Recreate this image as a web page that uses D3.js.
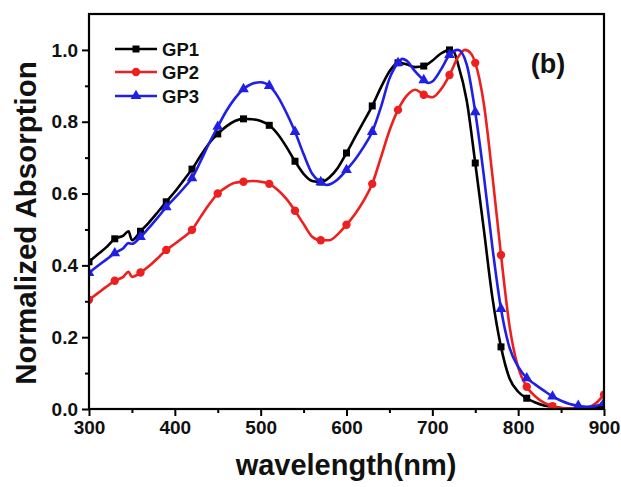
<!DOCTYPE html>
<html>
<head>
<meta charset="utf-8">
<script src="https://cdn.jsdelivr.net/npm/d3@7"></script>
<style>
  html, body { margin: 0; padding: 0; background: #fff; }
  svg { display: block; }
  text { font-family: "Liberation Sans", Arial, sans-serif; font-weight: bold; }
</style>
</head>
<body>
<script>
// ---- data ----
const seriesNames = ["GP1", "GP2", "GP3"];
const seriesColors = ["#000000", "#ee1f1f", "#1f1fe6"];
const markerWavelengths = [300,330,360,390,420,450,480,510,540,570,600,630,660,690,720,750,780,810,840,870,900];

const gp1Wavelength = [300,310,320,330,340,346,350,360,370,380,390,400,410,420,430,440,450,460,470,480,490,500,510,520,530,540,550,560,570,580,590,600,610,620,630,640,650,660,670,680,690,700,710,720,725,730,740,750,760,770,780,790,800,810,820,830,840,850,860,870,880,890,900];
const gp1Value = [0.41,0.43,0.45,0.474,0.483,0.495,0.47,0.495,0.52,0.548,0.577,0.605,0.636,0.668,0.705,0.74,0.766,0.787,0.802,0.808,0.807,0.802,0.79,0.765,0.73,0.69,0.655,0.635,0.632,0.645,0.672,0.713,0.757,0.8,0.844,0.895,0.94,0.964,0.96,0.952,0.955,0.97,0.99,1.0,0.995,0.96,0.86,0.685,0.5,0.31,0.173,0.085,0.048,0.03,0.018,0.01,0.006,0.003,0.001,0.0,0.0,0.003,0.01];

const gp2Wavelength = [300,310,320,330,340,346,350,360,370,380,390,400,410,420,430,440,450,460,470,480,490,500,510,520,530,540,550,560,570,580,590,600,610,620,630,640,650,660,670,680,690,700,710,720,730,738,745,750,760,770,780,790,800,810,820,830,840,850,860,870,880,890,900];
const gp2Value = [0.304,0.322,0.34,0.357,0.368,0.382,0.368,0.38,0.398,0.42,0.443,0.46,0.478,0.499,0.535,0.57,0.6,0.618,0.63,0.633,0.635,0.633,0.627,0.61,0.585,0.552,0.515,0.48,0.47,0.47,0.487,0.513,0.543,0.58,0.627,0.7,0.775,0.833,0.872,0.889,0.875,0.868,0.89,0.93,0.98,1.0,0.99,0.964,0.85,0.65,0.429,0.23,0.115,0.062,0.035,0.018,0.008,0.003,0.001,0.0,0.003,0.015,0.04];

const gp3Wavelength = [300,310,320,330,340,346,350,360,370,380,390,400,410,420,430,440,450,460,470,480,490,500,510,520,530,540,550,560,570,577,590,600,610,620,630,640,650,660,665,670,680,690,695,700,710,720,730,740,750,760,770,780,790,800,810,820,830,840,850,860,870,880,890,900];
const gp3Value = [0.379,0.398,0.416,0.434,0.448,0.462,0.46,0.479,0.505,0.533,0.562,0.588,0.614,0.643,0.69,0.74,0.786,0.83,0.865,0.891,0.906,0.91,0.9,0.87,0.825,0.772,0.71,0.655,0.632,0.624,0.64,0.666,0.695,0.73,0.772,0.84,0.92,0.964,0.975,0.97,0.94,0.916,0.908,0.912,0.945,0.986,1.0,0.96,0.827,0.65,0.45,0.279,0.17,0.118,0.086,0.068,0.051,0.035,0.023,0.014,0.009,0.006,0.008,0.017];

const xTicks = [300,400,500,600,700,800,900];
const xMinorTicks = [350,450,550,650,750,850];
const yTicks = [0.0,0.2,0.4,0.6,0.8,1.0];
const yMinorTicks = [0.1,0.3,0.5,0.7,0.9];

// ---- layout ----
const W = 621, H = 487;
const m = { left: 89, top: 14, right: 604, bottom: 409 };

const svg = d3.select("body").append("svg").attr("width", W).attr("height", H);

const x = d3.scaleLinear().domain([300, 900]).range([m.left, m.right]);
const y = d3.scaleLinear().domain([0, 1.1]).range([m.bottom, m.top]);

svg.append("defs").append("clipPath").attr("id", "clip")
  .append("rect").attr("x", m.left).attr("y", m.top)
  .attr("width", m.right - m.left).attr("height", m.bottom - m.top);

const series = [
  { name: seriesNames[0], color: seriesColors[0], shape: "square", wl: gp1Wavelength, v: gp1Value },
  { name: seriesNames[1], color: seriesColors[1], shape: "circle", wl: gp2Wavelength, v: gp2Value },
  { name: seriesNames[2], color: seriesColors[2], shape: "triangle", wl: gp3Wavelength, v: gp3Value }
];

const symbolFor = s => s === "square" ? d3.symbolSquare : s === "circle" ? d3.symbolCircle : d3.symbolTriangle;
const sizeFor = s => s === "square" ? 49 : s === "circle" ? 55 : 50;

const line = d3.line().x(d => x(d[0])).y(d => y(d[1])).curve(d3.curveMonotoneX);

const plot = svg.append("g").attr("clip-path", "url(#clip)");

series.forEach(s => {
  const pts = s.wl.map((w, i) => [w, s.v[i]]);
  plot.append("path").datum(pts)
    .attr("fill", "none").attr("stroke", s.color).attr("stroke-width", 2.6)
    .attr("stroke-linejoin", "round").attr("d", line);
  const mk = pts.filter(p => markerWavelengths.includes(p[0]));
  plot.selectAll(null).data(mk).enter().append("path")
    .attr("transform", d => `translate(${x(d[0])},${y(d[1])})`)
    .attr("d", d3.symbol().type(symbolFor(s.shape)).size(sizeFor(s.shape)))
    .attr("fill", s.color);
});

// ---- axes ----
const FONT = "Liberation Sans, Arial, sans-serif";
const xAxis = d3.axisBottom(x).tickValues(xTicks).tickFormat(d3.format("d")).tickSizeInner(7).tickSizeOuter(0).tickPadding(5);
const gx = svg.append("g").attr("transform", `translate(0,${m.bottom})`).call(xAxis);
gx.selectAll(".tick line").attr("stroke", "#000").attr("stroke-width", 2);
gx.select(".domain").remove();
gx.selectAll(".tick text").attr("font-size", 19).attr("fill", "#111").attr("font-family", FONT).attr("font-weight", "bold");
const gxm = svg.append("g").attr("transform", `translate(0,${m.bottom})`).call(d3.axisBottom(x).tickValues(xMinorTicks).tickSize(4).tickFormat(""));
gxm.select(".domain").remove();
gxm.selectAll(".tick line").attr("stroke", "#000").attr("stroke-width", 2);

const yAxis = d3.axisLeft(y).tickValues(yTicks).tickFormat(d3.format(".1f")).tickSizeInner(7).tickSizeOuter(0).tickPadding(4);
const gy = svg.append("g").attr("transform", `translate(${m.left},0)`).call(yAxis);
gy.select(".domain").remove();
gy.selectAll(".tick line").attr("stroke", "#000").attr("stroke-width", 2);
gy.selectAll(".tick text").attr("font-size", 19).attr("fill", "#111").attr("font-family", FONT).attr("font-weight", "bold");
const gym = svg.append("g").attr("transform", `translate(${m.left},0)`).call(d3.axisLeft(y).tickValues(yMinorTicks).tickSize(4).tickFormat(""));
gym.select(".domain").remove();
gym.selectAll(".tick line").attr("stroke", "#000").attr("stroke-width", 2);

// frame
svg.append("rect").attr("x", m.left).attr("y", m.top)
  .attr("width", m.right - m.left).attr("height", m.bottom - m.top)
  .attr("fill", "none").attr("stroke", "#000").attr("stroke-width", 2.2);

// axis titles
svg.append("text").attr("x", 346).attr("y", 475).attr("text-anchor", "middle")
  .attr("font-size", 29).attr("fill", "#111").text("wavelength(nm)");
svg.append("text").attr("transform", "translate(36,223) rotate(-90)").attr("text-anchor", "middle")
  .attr("font-size", 29.5).attr("fill", "#111").text("Normalized Absorption");

// panel label
svg.append("text").attr("x", 548).attr("y", 73).attr("text-anchor", "middle")
  .attr("font-size", 27).attr("fill", "#111").text("(b)");

// legend
const legY = [49, 72, 96];
series.forEach((s, i) => {
  const g = svg.append("g");
  g.append("line").attr("x1", 115).attr("x2", 157).attr("y1", legY[i]).attr("y2", legY[i])
    .attr("stroke", s.color).attr("stroke-width", 2.6);
  g.append("path").attr("transform", `translate(136,${legY[i]})`)
    .attr("d", d3.symbol().type(symbolFor(s.shape)).size(sizeFor(s.shape))).attr("fill", s.color);
  g.append("text").attr("x", 162).attr("y", legY[i] + 6.5).attr("font-size", 18.5).attr("fill", "#111").text(s.name);
});
</script>
</body>
</html>
